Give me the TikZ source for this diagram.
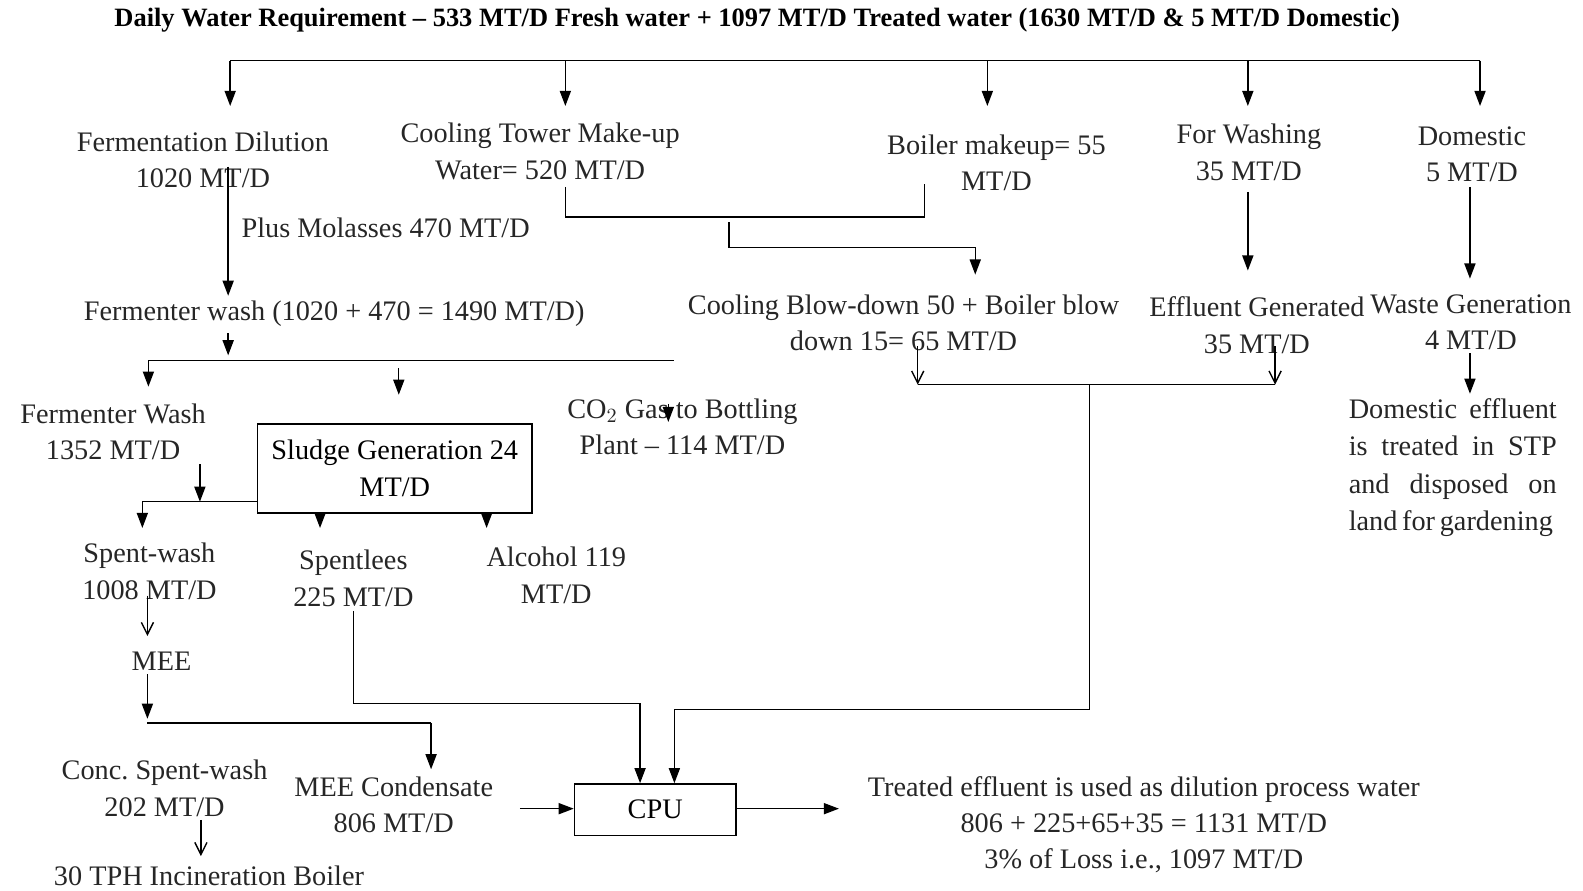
\documentclass[tikz,border=0pt]{standalone}
\usepackage{fontspec}
\setmainfont{Liberation Serif}
\usetikzlibrary{arrows.meta}
\frenchspacing
\begin{document}
\begin{tikzpicture}[x=0.5pt,y=-0.5pt,
  lbl/.style={inner sep=0pt, align=center, font=\fontsize{14}{18}\selectfont, text=black!85},
  box/.style={draw, line width=0.7pt, inner sep=0pt, align=center, font=\fontsize{14}{18}\selectfont},
  ln/.style={line width=0.7pt},
  fa/.style={ln, -{Triangle[length=7.5pt,width=5.5pt]}},
  oa/.style={ln, -{Straight Barb[length=6pt,width=6pt]}},
]
\useasboundingbox (0,0) rectangle (1568,882);

% title
\node[inner sep=0pt, font=\bfseries\fontsize{13.1}{16}\selectfont] (title) at (750,20)
  {Daily Water Requirement – 533 MT/D Fresh water + 1097 MT/D Treated water (1630 MT/D \& 5 MT/D Domestic)};

% level 1
\node[lbl] (fd)  at (201,158) {Fermentation Dilution\\1020 MT/D};
\node[lbl] (ct)  at (535,150) {Cooling Tower Make-up\\Water= 520 MT/D};
\node[lbl] (bm)  at (987,161) {Boiler makeup= 55\\MT/D};
\node[lbl] (fw)  at (1237,151) {For Washing\\35 MT/D};
\node[lbl] (dom) at (1458,153) {Domestic\\5 MT/D};
\node[lbl] (pm)  at (382,226) {Plus Molasses 470 MT/D};
\node[lbl] (fwash) at (331,311) {Fermenter wash (1020 + 470 = 1490 MT/D)};
\node[lbl] (cbd) at (895,320) {Cooling Blow-down 50 + Boiler blow\\down 15= 65 MT/D};
\node[lbl] (eg)  at (1245,322) {Effluent Generated\\35 MT/D};
\node[lbl] (wg)  at (1457,319) {Waste Generation\\4 MT/D};
\node[inner sep=0pt, align=left, text width=103pt, font=\fontsize{14}{18.5}\selectfont, text=black!85] (de) at (1439,463)
  {Domestic\hfill effluent\\ is\hfill treated\hfill in\hfill STP\\ and\hfill disposed\hfill on\\ \mbox{land\,for\,gardening}};

% level 2
\node[lbl] (fwa) at (112,428) {Fermenter Wash\\1352 MT/D};
\node[box, minimum width=136pt, minimum height=44pt] (sludge) at (391,464) {Sludge Generation 24\\MT/D};
\node[lbl] (co2) at (676,423) {CO$_2$ Gas to Bottling\\Plant – 114 MT/D};
\node[lbl] (sw)  at (148,566) {Spent-wash\\1008 MT/D};
\node[lbl] (sl)  at (350,573) {Spentlees\\225 MT/D};
\node[lbl] (alc) at (551,570) {Alcohol 119\\MT/D};
\node[lbl] (mee) at (160,655) {MEE};
\node[lbl] (csw) at (163,781) {Conc. Spent-wash\\202 MT/D};
\node[lbl] (inc) at (207,868) {30 TPH Incineration Boiler};
\node[lbl] (meec) at (390,797) {MEE Condensate\\806 MT/D};
\node[box, minimum width=80pt, minimum height=25.5pt] (cpu) at (649,802) {CPU};
\node[lbl] (te) at (1133,817) {Treated effluent is used as dilution process water\\806 + 225+65+35 = 1131 MT/D\\3\% of Loss i.e., 1097 MT/D};

% top bus
\coordinate (t1) at (228,60);
\coordinate (t2) at (560,60);
\coordinate (t3) at (978,60);
\coordinate (t4) at (1236,60);
\coordinate (t5) at (1466,60);
\draw[ln] (t1) -- (t5);
\foreach \c in {t1,t2,t3,t4,t5} \draw[fa] (\c) -- ++(0,45);

% fermentation dilution -> fermenter wash
\coordinate (f1) at (226,165);
\coordinate (f2) at (226,293);
\draw[fa] (f1) -- (f2);

% cooling tower + boiler -> blowdown
\coordinate (c1) at (560,185);
\coordinate (c2) at (916,182);
\draw[ln] (c1) -- (560,215) -- (916,215) -- (c2);
\coordinate (c3) at (722,220);
\coordinate (c4) at (966,272);
\draw[fa] (c3) -- (722,245) -- (966,245) -- (c4);

% washing, domestic
\draw[fa] (1236,190) coordinate (w1) -- (1236,268) coordinate (w2);
\draw[fa] (1456,185) coordinate (d1) -- (1456,276) coordinate (d2);
\draw[fa] (1456,350) coordinate (d3) -- (1456,390) coordinate (d4);

% blowdown + effluent -> CPU
\coordinate (b1) at (909,343);
\coordinate (b2) at (909,381);
\coordinate (e1) at (1263,343);
\coordinate (e2) at (1263,381);
\draw[oa] (b1) -- (b2);
\draw[oa] (e1) -- (e2);
\draw[ln] (b2) -- (e2);
\coordinate (j1) at (1079,381);
\coordinate (j2) at (1079,703);
\coordinate (j3) at (668,703);
\draw[fa] (j1) -- (j2) -- (j3) -- (j3 |- cpu.north);

% fermenter wash split
\draw[fa] (226,330) coordinate (s0) -- (226,352) coordinate (s00);
\coordinate (s1) at (147,357);
\coordinate (s2) at (668,357);
\draw[ln] (s1) -- (s2);
\draw[fa] (s1) -- (147,383);
\draw[fa] (395,365) coordinate (s3) -- (395,391) coordinate (s4);
\draw[fa] (662,400) coordinate (s5) -- (662,418) coordinate (s6);

% fermenter wash 1352 -> spent-wash
\draw[fa] (198,460) coordinate (g1) -- (198,497) coordinate (g2);
\coordinate (g3) at (141,497);
\draw[ln] (g3) -- (sludge.west |- g3);
\draw[fa] (g3) -- (141,523);
\draw[fa] (sludge.south -| 317,0) -- (317,523);
\draw[fa] (sludge.south -| 482,0) -- (482,523);

% spent-wash -> MEE -> condensate
\draw[oa] (146,590) coordinate (m1) -- (146,630) coordinate (m2);
\draw[fa] (146,668) coordinate (m3) -- (146,712) coordinate (m4);
\coordinate (m5) at (146,716);
\coordinate (m6) at (427,716);
\draw[ln] (m5) -- (m6);
\draw[fa] (m6) -- (427,762);
\draw[oa] (199,812) coordinate (i1) -- (199,848) coordinate (i2);

% condensate -> CPU
\coordinate (k1) at (515,801);
\draw[fa] (k1) -- (cpu.west |- k1);
% spentlees -> CPU
\coordinate (p1) at (350,605);
\coordinate (p2) at (634,697);
\draw[fa] (p1) -- (350,697) -- (p2) -- (p2 |- cpu.north);
% CPU -> treated effluent
\coordinate (o1) at (831,801);
\draw[fa] (cpu.east |- o1) -- (o1);
\end{tikzpicture}
\end{document}
